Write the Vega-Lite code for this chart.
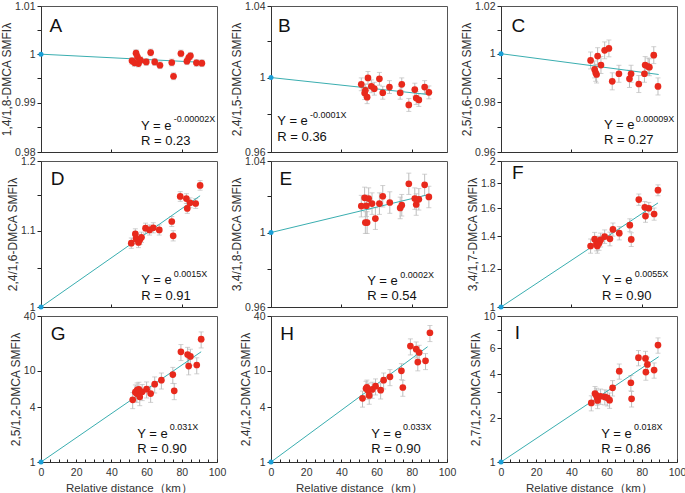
{
"$schema":"https://vega.github.io/schema/vega-lite/v6.json",
"padding":{"left":0,"top":0,"right":5,"bottom":0},
"config":{
 "font":"Liberation Sans",
 "view":{"stroke":"#555","strokeWidth":1},
 "axis":{"grid":false,"labelFont":"Liberation Sans","labelFontSize":10.5,"labelColor":"#333","titleFont":"Liberation Sans","titleFontSize":12,"titleFontWeight":"normal","titleColor":"#333","domainColor":"#333","tickColor":"#222","tickSize":4,"tickWidth":1,"labelPadding":2,"titlePadding":1,"labelFlush":false,"labelBound":false,"labelOverlap":false,"labelSeparation":0},
 "axisX":{"titleFontSize":11.5,"labelOverlap":false},
 "text":{"baseline":"alphabetic","align":"left","font":"Liberation Sans","color":"#111"}
},
"datasets":{
"pts":[
{"p":"A","x":51.7,"y":0.99862,"e":0.0007},{"p":"A","x":53.1,"y":0.99821,"e":0.0007},{"p":"A","x":54.0,"y":1.00021,"e":0.0007},{"p":"A","x":54.8,"y":0.99945,"e":0.0007},{"p":"A","x":55.4,"y":0.99807,"e":0.0007},{"p":"A","x":56.5,"y":0.99876,"e":0.0007},{"p":"A","x":59.8,"y":0.99841,"e":0.0007},{"p":"A","x":62.3,"y":1.00034,"e":0.0007},{"p":"A","x":64.6,"y":0.99841,"e":0.0007},{"p":"A","x":67.6,"y":0.99772,"e":0.0007},{"p":"A","x":74.3,"y":0.99828,"e":0.0007},{"p":"A","x":75.3,"y":0.99545,"e":0.0007},{"p":"A","x":79.5,"y":1.00014,"e":0.0007},{"p":"A","x":82.9,"y":0.99855,"e":0.0007},{"p":"A","x":83.9,"y":0.99924,"e":0.0007},{"p":"A","x":84.9,"y":0.99966,"e":0.0007},{"p":"A","x":88.3,"y":0.99821,"e":0.0007},{"p":"A","x":91.4,"y":0.99814,"e":0.0007},
{"p":"B","x":51.3,"y":0.9963,"e":0.0035},{"p":"B","x":53.2,"y":0.9915,"e":0.0035},{"p":"B","x":53.6,"y":0.9930,"e":0.0035},{"p":"B","x":54.6,"y":0.9893,"e":0.0035},{"p":"B","x":55.1,"y":0.9998,"e":0.0035},{"p":"B","x":57.0,"y":0.9952,"e":0.0035},{"p":"B","x":58.7,"y":0.9939,"e":0.0035},{"p":"B","x":61.6,"y":0.9993,"e":0.0035},{"p":"B","x":63.5,"y":0.9917,"e":0.0035},{"p":"B","x":67.3,"y":0.9948,"e":0.0035},{"p":"B","x":73.4,"y":0.9917,"e":0.0035},{"p":"B","x":74.3,"y":0.9963,"e":0.0035},{"p":"B","x":78.3,"y":0.9851,"e":0.0035},{"p":"B","x":81.7,"y":0.9934,"e":0.0035},{"p":"B","x":82.5,"y":0.9888,"e":0.0035},{"p":"B","x":84.0,"y":0.9878,"e":0.0035},{"p":"B","x":87.3,"y":0.9948,"e":0.0035},{"p":"B","x":89.7,"y":0.9919,"e":0.0035},
{"p":"C","x":50.9,"y":0.9972,"e":0.0035},{"p":"C","x":53.2,"y":0.9935,"e":0.0035},{"p":"C","x":53.8,"y":0.9921,"e":0.0035},{"p":"C","x":54.3,"y":0.9914,"e":0.0035},{"p":"C","x":54.9,"y":0.9990,"e":0.0035},{"p":"C","x":56.8,"y":0.9953,"e":0.0035},{"p":"C","x":58.9,"y":1.0014,"e":0.0035},{"p":"C","x":61.3,"y":1.0022,"e":0.0035},{"p":"C","x":63.2,"y":0.9886,"e":0.0035},{"p":"C","x":67.0,"y":0.9917,"e":0.0035},{"p":"C","x":73.0,"y":0.9896,"e":0.0035},{"p":"C","x":73.9,"y":0.9917,"e":0.0035},{"p":"C","x":78.3,"y":0.9875,"e":0.0035},{"p":"C","x":81.5,"y":0.9917,"e":0.0035},{"p":"C","x":81.9,"y":0.9953,"e":0.0035},{"p":"C","x":83.6,"y":0.9947,"e":0.0035},{"p":"C","x":84.3,"y":0.9944,"e":0.0035},{"p":"C","x":86.8,"y":0.9994,"e":0.0035},{"p":"C","x":89.2,"y":0.9865,"e":0.0035},
{"p":"D","x":51.3,"y":1.083,"e":0.007},{"p":"D","x":53.6,"y":1.0956,"e":0.007},{"p":"D","x":54.0,"y":1.089,"e":0.007},{"p":"D","x":55.4,"y":1.084,"e":0.007},{"p":"D","x":56.2,"y":1.088,"e":0.007},{"p":"D","x":57.1,"y":1.091,"e":0.007},{"p":"D","x":59.4,"y":1.1034,"e":0.007},{"p":"D","x":61.7,"y":1.101,"e":0.007},{"p":"D","x":63.8,"y":1.104,"e":0.007},{"p":"D","x":67.2,"y":1.101,"e":0.007},{"p":"D","x":74.3,"y":1.1127,"e":0.007},{"p":"D","x":75.1,"y":1.093,"e":0.007},{"p":"D","x":79.1,"y":1.148,"e":0.007},{"p":"D","x":82.6,"y":1.145,"e":0.007},{"p":"D","x":83.1,"y":1.131,"e":0.007},{"p":"D","x":84.7,"y":1.139,"e":0.007},{"p":"D","x":87.9,"y":1.138,"e":0.007},{"p":"D","x":90.4,"y":1.164,"e":0.007},
{"p":"E","x":51.3,"y":1.0146,"e":0.006},{"p":"E","x":53.2,"y":1.0192,"e":0.006},{"p":"E","x":53.6,"y":1.0055,"e":0.006},{"p":"E","x":54.6,"y":1.0055,"e":0.006},{"p":"E","x":54.2,"y":1.0148,"e":0.006},{"p":"E","x":55.5,"y":1.0188,"e":0.006},{"p":"E","x":57.4,"y":1.0160,"e":0.006},{"p":"E","x":59.3,"y":1.0077,"e":0.006},{"p":"E","x":61.6,"y":1.0160,"e":0.006},{"p":"E","x":63.5,"y":1.0201,"e":0.006},{"p":"E","x":67.5,"y":1.0166,"e":0.006},{"p":"E","x":73.4,"y":1.0136,"e":0.006},{"p":"E","x":74.3,"y":1.0151,"e":0.006},{"p":"E","x":78.3,"y":1.0271,"e":0.006},{"p":"E","x":81.7,"y":1.0188,"e":0.006},{"p":"E","x":82.5,"y":1.0155,"e":0.006},{"p":"E","x":84.0,"y":1.0184,"e":0.006},{"p":"E","x":87.3,"y":1.0265,"e":0.006},{"p":"E","x":89.7,"y":1.0197,"e":0.006},
{"p":"F","x":50.9,"y":1.336,"e":0.045},{"p":"F","x":53.2,"y":1.38,"e":0.045},{"p":"F","x":54.2,"y":1.35,"e":0.045},{"p":"F","x":54.7,"y":1.336,"e":0.045},{"p":"F","x":55.7,"y":1.354,"e":0.045},{"p":"F","x":56.6,"y":1.375,"e":0.045},{"p":"F","x":58.9,"y":1.397,"e":0.045},{"p":"F","x":61.9,"y":1.382,"e":0.045},{"p":"F","x":63.6,"y":1.445,"e":0.045},{"p":"F","x":67.2,"y":1.42,"e":0.045},{"p":"F","x":73.2,"y":1.475,"e":0.045},{"p":"F","x":74.0,"y":1.378,"e":0.045},{"p":"F","x":78.3,"y":1.665,"e":0.045},{"p":"F","x":81.7,"y":1.605,"e":0.045},{"p":"F","x":82.1,"y":1.54,"e":0.045},{"p":"F","x":84.0,"y":1.598,"e":0.045},{"p":"F","x":87.0,"y":1.555,"e":0.045},{"p":"F","x":89.2,"y":1.741,"e":0.045},
{"p":"G","x":52.1,"y":4.81,"e":0.96},{"p":"G","x":53.6,"y":5.84,"e":1.17},{"p":"G","x":54.4,"y":5.64,"e":1.13},{"p":"G","x":54.6,"y":6.14,"e":1.23},{"p":"G","x":55.6,"y":6.25,"e":1.25},{"p":"G","x":56.1,"y":5.19,"e":1.04},{"p":"G","x":57.5,"y":5.9,"e":1.18},{"p":"G","x":60.0,"y":6.3,"e":1.26},{"p":"G","x":62.3,"y":5.64,"e":1.13},{"p":"G","x":64.6,"y":7.15,"e":1.43},{"p":"G","x":68.4,"y":7.9,"e":1.58},{"p":"G","x":74.9,"y":9.1,"e":1.82},{"p":"G","x":75.7,"y":6.04,"e":1.21},{"p":"G","x":79.5,"y":16.2,"e":3.24},{"p":"G","x":83.3,"y":15.1,"e":3.02},{"p":"G","x":84.9,"y":14.4,"e":2.88},{"p":"G","x":83.9,"y":11.3,"e":2.26},{"p":"G","x":88.5,"y":11.6,"e":2.32},{"p":"G","x":91.0,"y":22.3,"e":4.46},
{"p":"H","x":52.0,"y":5.0,"e":1.0},{"p":"H","x":54.0,"y":6.4,"e":1.28},{"p":"H","x":54.5,"y":6.6,"e":1.32},{"p":"H","x":55.2,"y":6.1,"e":1.22},{"p":"H","x":55.8,"y":5.37,"e":1.07},{"p":"H","x":57.5,"y":6.25,"e":1.25},{"p":"H","x":59.4,"y":6.8,"e":1.36},{"p":"H","x":62.3,"y":6.14,"e":1.23},{"p":"H","x":64.0,"y":7.9,"e":1.58},{"p":"H","x":67.6,"y":8.6,"e":1.72},{"p":"H","x":74.1,"y":10.0,"e":2.0},{"p":"H","x":74.9,"y":6.57,"e":1.31},{"p":"H","x":79.2,"y":18.7,"e":3.74},{"p":"H","x":82.5,"y":17.3,"e":3.46},{"p":"H","x":83.4,"y":12.5,"e":2.5},{"p":"H","x":84.2,"y":15.9,"e":3.18},{"p":"H","x":87.8,"y":12.9,"e":2.58},{"p":"H","x":90.3,"y":26.2,"e":5.24},
{"p":"I","x":51.3,"y":2.54,"e":0.30},{"p":"I","x":53.4,"y":2.94,"e":0.35},{"p":"I","x":54.2,"y":2.86,"e":0.34},{"p":"I","x":54.6,"y":2.78,"e":0.33},{"p":"I","x":54.9,"y":2.64,"e":0.32},{"p":"I","x":56.6,"y":2.82,"e":0.34},{"p":"I","x":59.0,"y":2.79,"e":0.33},{"p":"I","x":60.4,"y":2.75,"e":0.33},{"p":"I","x":61.7,"y":2.65,"e":0.32},{"p":"I","x":63.4,"y":3.22,"e":0.39},{"p":"I","x":67.2,"y":4.19,"e":0.50},{"p":"I","x":73.8,"y":3.49,"e":0.42},{"p":"I","x":74.2,"y":2.71,"e":0.33},{"p":"I","x":78.1,"y":5.18,"e":0.62},{"p":"I","x":82.1,"y":5.12,"e":0.61},{"p":"I","x":82.3,"y":4.13,"e":0.50},{"p":"I","x":83.2,"y":4.66,"e":0.56},{"p":"I","x":87.0,"y":4.26,"e":0.51},{"p":"I","x":89.2,"y":6.32,"e":0.76}
],
"fit":[
{"p":"A","x":0,"y":1},{"p":"A","x":92.3,"y":0.9983},
{"p":"B","x":0,"y":1},{"p":"B","x":90.7,"y":0.9906},
{"p":"C","x":0,"y":1},{"p":"C","x":89.6,"y":0.9914},
{"p":"D","x":0,"y":1},{"p":"D","x":90.4,"y":1.149},
{"p":"E","x":0,"y":1},{"p":"E","x":90.3,"y":1.0212},
{"p":"F","x":0,"y":1},{"p":"F","x":89.2,"y":1.639},
{"p":"G","x":0,"y":1},{"p":"G","x":91,"y":16.2},
{"p":"H","x":0,"y":1},{"p":"H","x":89,"y":18.4},
{"p":"I","x":0,"y":1},{"p":"I","x":89.6,"y":5.26}
]
},
"columns":3,
"spacing":{"row":9,"column":54},
"bounds":"flush",
"concat":[
{"width":176,"height":146,"layer":[
 {"data":{"name":"pts"},"transform":[{"filter":"datum.p=='A'"}],"mark":{"type":"errorbar","ticks":true,"color":"#bdbdbd"},
  "encoding":{"x":{"field":"x","type":"quantitative","scale":{"domain":[0,100],"nice":false},"axis":{"values":[0,5,10,15,20,25,30,35,40,45,50,55,60,65,70,75,80,85,90,95,100],"labels":false,"title":null,"tickSize":-3}},
   "y":{"field":"y","type":"quantitative","scale":{"type":"log","domain":[0.98,1.01],"nice":false},"axis":{"values":[0.98,0.985,0.99,0.995,1,1.005,1.01],"labelOverlap":false,"labelExpr":"indexof([0.98,0.99,1,1.01],datum.value)>=0?format(datum.value,'~g'):''","title":"1,4/1,8-DMCA SMFIλ"}},
   "yError":{"field":"e"}}},
 {"data":{"name":"fit"},"transform":[{"filter":"datum.p=='A'"}],"mark":{"type":"line","color":"#3aaeb0","strokeWidth":1},"encoding":{"x":{"field":"x","type":"quantitative"},"y":{"field":"y","type":"quantitative"}}},
 {"data":{"name":"pts"},"transform":[{"filter":"datum.p=='A'"}],"mark":{"type":"circle","color":"#e8291c","opacity":1,"size":45},"encoding":{"x":{"field":"x","type":"quantitative"},"y":{"field":"y","type":"quantitative"}}},
 {"data":{"name":"fit"},"transform":[{"filter":"datum.p=='A' && datum.x==0"}],"mark":{"type":"circle","color":"#1a9fd8","opacity":1,"size":25,"clip":false},"encoding":{"x":{"field":"x","type":"quantitative"},"y":{"field":"y","type":"quantitative"}}},
 {"data":{"values":[{}]},"mark":{"type":"text","text":"A","fontSize":19},"encoding":{"x":{"datum":4.9},"y":{"datum":1.00465}}},
 {"data":{"values":[{}]},"mark":{"type":"text","text":"Y = e","fontSize":13},"encoding":{"x":{"datum":56.8},"y":{"datum":0.98447}}},
 {"data":{"values":[{}]},"mark":{"type":"text","text":"-0.00002X","fontSize":9},"encoding":{"x":{"datum":75.4},"y":{"datum":0.98614}}},
 {"data":{"values":[{}]},"mark":{"type":"text","text":"R = 0.23","fontSize":13},"encoding":{"x":{"datum":56.8},"y":{"datum":0.98142}}}
]},
{"width":176,"height":146,"layer":[
 {"data":{"name":"pts"},"transform":[{"filter":"datum.p=='B'"}],"mark":{"type":"errorbar","ticks":true,"color":"#bdbdbd"},
  "encoding":{"x":{"field":"x","type":"quantitative","scale":{"domain":[0,100],"nice":false},"axis":{"values":[0,5,10,15,20,25,30,35,40,45,50,55,60,65,70,75,80,85,90,95,100],"labels":false,"title":null,"tickSize":-3}},
   "y":{"field":"y","type":"quantitative","scale":{"type":"log","domain":[0.96,1.04],"nice":false},"axis":{"values":[0.96,0.98,1,1.02,1.04],"labelOverlap":false,"labelExpr":"indexof([0.96,1,1.04],datum.value)>=0?format(datum.value,'~g'):''","title":"2,4/1,5-DMCA SMFIλ"}},
   "yError":{"field":"e"}}},
 {"data":{"name":"fit"},"transform":[{"filter":"datum.p=='B'"}],"mark":{"type":"line","color":"#3aaeb0","strokeWidth":1},"encoding":{"x":{"field":"x","type":"quantitative"},"y":{"field":"y","type":"quantitative"}}},
 {"data":{"name":"pts"},"transform":[{"filter":"datum.p=='B'"}],"mark":{"type":"circle","color":"#e8291c","opacity":1,"size":45},"encoding":{"x":{"field":"x","type":"quantitative"},"y":{"field":"y","type":"quantitative"}}},
 {"data":{"name":"fit"},"transform":[{"filter":"datum.p=='B' && datum.x==0"}],"mark":{"type":"circle","color":"#1a9fd8","opacity":1,"size":25,"clip":false},"encoding":{"x":{"field":"x","type":"quantitative"},"y":{"field":"y","type":"quantitative"}}},
 {"data":{"values":[{}]},"mark":{"type":"text","text":"B","fontSize":19},"encoding":{"x":{"datum":4.0},"y":{"datum":1.02545}}},
 {"data":{"values":[{}]},"mark":{"type":"text","text":"Y = e","fontSize":13},"encoding":{"x":{"datum":3.6},"y":{"datum":0.97432}}},
 {"data":{"values":[{}]},"mark":{"type":"text","text":"-0.0001X","fontSize":9},"encoding":{"x":{"datum":22.2},"y":{"datum":0.97823}}},
 {"data":{"values":[{}]},"mark":{"type":"text","text":"R = 0.36","fontSize":13},"encoding":{"x":{"datum":3.6},"y":{"datum":0.96578}}}
]},
{"width":176,"height":146,"layer":[
 {"data":{"name":"pts"},"transform":[{"filter":"datum.p=='C'"}],"mark":{"type":"errorbar","ticks":true,"color":"#bdbdbd"},
  "encoding":{"x":{"field":"x","type":"quantitative","scale":{"domain":[0,100],"nice":false},"axis":{"values":[0,5,10,15,20,25,30,35,40,45,50,55,60,65,70,75,80,85,90,95,100],"labels":false,"title":null,"tickSize":-3}},
   "y":{"field":"y","type":"quantitative","scale":{"type":"log","domain":[0.96,1.02],"nice":false},"axis":{"values":[0.96,0.97,0.98,0.99,1,1.01,1.02],"labelOverlap":false,"labelExpr":"indexof([0.96,0.98,1,1.02],datum.value)>=0?format(datum.value,'~g'):''","title":"2,5/1,6-DMCA SMFIλ"}},
   "yError":{"field":"e"}}},
 {"data":{"name":"fit"},"transform":[{"filter":"datum.p=='C'"}],"mark":{"type":"line","color":"#3aaeb0","strokeWidth":1},"encoding":{"x":{"field":"x","type":"quantitative"},"y":{"field":"y","type":"quantitative"}}},
 {"data":{"name":"pts"},"transform":[{"filter":"datum.p=='C'"}],"mark":{"type":"circle","color":"#e8291c","opacity":1,"size":45},"encoding":{"x":{"field":"x","type":"quantitative"},"y":{"field":"y","type":"quantitative"}}},
 {"data":{"name":"fit"},"transform":[{"filter":"datum.p=='C' && datum.x==0"}],"mark":{"type":"circle","color":"#1a9fd8","opacity":1,"size":25,"clip":false},"encoding":{"x":{"field":"x","type":"quantitative"},"y":{"field":"y","type":"quantitative"}}},
 {"data":{"values":[{}]},"mark":{"type":"text","text":"C","fontSize":19},"encoding":{"x":{"datum":5.9},"y":{"datum":1.00918}}},
 {"data":{"values":[{}]},"mark":{"type":"text","text":"Y = e","fontSize":13},"encoding":{"x":{"datum":58.5},"y":{"datum":0.96906}}},
 {"data":{"values":[{}]},"mark":{"type":"text","text":"0.00009X","fontSize":9},"encoding":{"x":{"datum":76.5},"y":{"datum":0.97218}}},
 {"data":{"values":[{}]},"mark":{"type":"text","text":"R = 0.27","fontSize":13},"encoding":{"x":{"datum":58.5},"y":{"datum":0.96309}}}
]},
{"width":176,"height":146,"layer":[
 {"data":{"name":"pts"},"transform":[{"filter":"datum.p=='D'"}],"mark":{"type":"errorbar","ticks":true,"color":"#bdbdbd"},
  "encoding":{"x":{"field":"x","type":"quantitative","scale":{"domain":[0,100],"nice":false},"axis":{"values":[0,5,10,15,20,25,30,35,40,45,50,55,60,65,70,75,80,85,90,95,100],"labels":false,"title":null,"tickSize":-3}},
   "y":{"field":"y","type":"quantitative","scale":{"type":"log","domain":[1,1.2],"nice":false},"axis":{"values":[1,1.05,1.1,1.15,1.2],"labelOverlap":false,"labelExpr":"indexof([1,1.1,1.2],datum.value)>=0?format(datum.value,'~g'):''","title":"2,4/1,6-DMCA SMFIλ"}},
   "yError":{"field":"e"}}},
 {"data":{"name":"fit"},"transform":[{"filter":"datum.p=='D'"}],"mark":{"type":"line","color":"#3aaeb0","strokeWidth":1},"encoding":{"x":{"field":"x","type":"quantitative"},"y":{"field":"y","type":"quantitative"}}},
 {"data":{"name":"pts"},"transform":[{"filter":"datum.p=='D'"}],"mark":{"type":"circle","color":"#e8291c","opacity":1,"size":45},"encoding":{"x":{"field":"x","type":"quantitative"},"y":{"field":"y","type":"quantitative"}}},
 {"data":{"name":"fit"},"transform":[{"filter":"datum.p=='D' && datum.x==0"}],"mark":{"type":"circle","color":"#1a9fd8","opacity":1,"size":25,"clip":false},"encoding":{"x":{"field":"x","type":"quantitative"},"y":{"field":"y","type":"quantitative"}}},
 {"data":{"values":[{}]},"mark":{"type":"text","text":"D","fontSize":19},"encoding":{"x":{"datum":5.5},"y":{"datum":1.16423}}},
 {"data":{"values":[{}]},"mark":{"type":"text","text":"Y = e","fontSize":13},"encoding":{"x":{"datum":57},"y":{"datum":1.02866}}},
 {"data":{"values":[{}]},"mark":{"type":"text","text":"0.0015X","fontSize":9},"encoding":{"x":{"datum":75.4},"y":{"datum":1.03865}}},
 {"data":{"values":[{}]},"mark":{"type":"text","text":"R = 0.91","fontSize":13},"encoding":{"x":{"datum":57},"y":{"datum":1.00879}}}
]},
{"width":176,"height":146,"layer":[
 {"data":{"name":"pts"},"transform":[{"filter":"datum.p=='E'"}],"mark":{"type":"errorbar","ticks":true,"color":"#bdbdbd"},
  "encoding":{"x":{"field":"x","type":"quantitative","scale":{"domain":[0,100],"nice":false},"axis":{"values":[0,5,10,15,20,25,30,35,40,45,50,55,60,65,70,75,80,85,90,95,100],"labels":false,"title":null,"tickSize":-3}},
   "y":{"field":"y","type":"quantitative","scale":{"type":"log","domain":[0.96,1.04],"nice":false},"axis":{"values":[0.96,0.98,1,1.02,1.04],"labelOverlap":false,"labelExpr":"indexof([0.96,1,1.04],datum.value)>=0?format(datum.value,'~g'):''","title":"3,4/1,8-DMCA SMFIλ"}},
   "yError":{"field":"e"}}},
 {"data":{"name":"fit"},"transform":[{"filter":"datum.p=='E'"}],"mark":{"type":"line","color":"#3aaeb0","strokeWidth":1},"encoding":{"x":{"field":"x","type":"quantitative"},"y":{"field":"y","type":"quantitative"}}},
 {"data":{"name":"pts"},"transform":[{"filter":"datum.p=='E'"}],"mark":{"type":"circle","color":"#e8291c","opacity":1,"size":45},"encoding":{"x":{"field":"x","type":"quantitative"},"y":{"field":"y","type":"quantitative"}}},
 {"data":{"name":"fit"},"transform":[{"filter":"datum.p=='E' && datum.x==0"}],"mark":{"type":"circle","color":"#1a9fd8","opacity":1,"size":25,"clip":false},"encoding":{"x":{"field":"x","type":"quantitative"},"y":{"field":"y","type":"quantitative"}}},
 {"data":{"values":[{}]},"mark":{"type":"text","text":"E","fontSize":19},"encoding":{"x":{"datum":4.9},"y":{"datum":1.02627}}},
 {"data":{"values":[{}]},"mark":{"type":"text","text":"Y = e","fontSize":13},"encoding":{"x":{"datum":54.7},"y":{"datum":0.97152}}},
 {"data":{"values":[{}]},"mark":{"type":"text","text":"0.0002X","fontSize":9},"encoding":{"x":{"datum":73.5},"y":{"datum":0.97557}}},
 {"data":{"values":[{}]},"mark":{"type":"text","text":"R = 0.54","fontSize":13},"encoding":{"x":{"datum":54.7},"y":{"datum":0.9637}}}
]},
{"width":176,"height":146,"layer":[
 {"data":{"name":"pts"},"transform":[{"filter":"datum.p=='F'"}],"mark":{"type":"errorbar","ticks":true,"color":"#bdbdbd"},
  "encoding":{"x":{"field":"x","type":"quantitative","scale":{"domain":[0,100],"nice":false},"axis":{"values":[0,5,10,15,20,25,30,35,40,45,50,55,60,65,70,75,80,85,90,95,100],"labels":false,"title":null,"tickSize":-3}},
   "y":{"field":"y","type":"quantitative","scale":{"type":"log","domain":[1,2],"nice":false},"axis":{"values":[1,1.2,1.4,1.6,1.8,2],"labelOverlap":false,"labelExpr":"format(datum.value,'~g')","title":"3,4/1,7-DMCA SMFIλ"}},
   "yError":{"field":"e"}}},
 {"data":{"name":"fit"},"transform":[{"filter":"datum.p=='F'"}],"mark":{"type":"line","color":"#3aaeb0","strokeWidth":1},"encoding":{"x":{"field":"x","type":"quantitative"},"y":{"field":"y","type":"quantitative"}}},
 {"data":{"name":"pts"},"transform":[{"filter":"datum.p=='F'"}],"mark":{"type":"circle","color":"#e8291c","opacity":1,"size":45},"encoding":{"x":{"field":"x","type":"quantitative"},"y":{"field":"y","type":"quantitative"}}},
 {"data":{"name":"fit"},"transform":[{"filter":"datum.p=='F' && datum.x==0"}],"mark":{"type":"circle","color":"#1a9fd8","opacity":1,"size":25,"clip":false},"encoding":{"x":{"field":"x","type":"quantitative"},"y":{"field":"y","type":"quantitative"}}},
 {"data":{"values":[{}]},"mark":{"type":"text","text":"F","fontSize":19},"encoding":{"x":{"datum":6.25},"y":{"datum":1.83401}}},
 {"data":{"values":[{}]},"mark":{"type":"text","text":"Y = e","fontSize":13},"encoding":{"x":{"datum":57.4},"y":{"datum":1.11342}}},
 {"data":{"values":[{}]},"mark":{"type":"text","text":"0.0055X","fontSize":9},"encoding":{"x":{"datum":76},"y":{"datum":1.15509}}},
 {"data":{"values":[{}]},"mark":{"type":"text","text":"R = 0.90","fontSize":13},"encoding":{"x":{"datum":57.4},"y":{"datum":1.03383}}}
]},
{"width":176,"height":146,"resolve":{"axis":{"x":"independent"}},"layer":[
 {"data":{"name":"pts"},"transform":[{"filter":"datum.p=='G'"}],"mark":{"type":"errorbar","ticks":true,"color":"#bdbdbd"},
  "encoding":{"x":{"field":"x","type":"quantitative","scale":{"domain":[0,100],"nice":false},"axis":null},
   "y":{"field":"y","type":"quantitative","scale":{"type":"log","domain":[1,40],"nice":false},"axis":{"values":[1,4,10,40],"labelOverlap":false,"labelExpr":"format(datum.value,'~g')","title":"2,5/1,2-DMCA SMFIλ"}},
   "yError":{"field":"e"}}},
 {"data":{"name":"fit"},"transform":[{"filter":"datum.p=='G'"}],"mark":{"type":"line","color":"#3aaeb0","strokeWidth":1},"encoding":{"x":{"field":"x","type":"quantitative","axis":{"orient":"bottom","values":[0,5,10,15,20,25,30,35,40,45,50,55,60,65,70,75,80,85,90,95,100],"labels":false,"domain":false,"title":null,"tickSize":-3}},"y":{"field":"y","type":"quantitative"}}},
 {"data":{"name":"pts"},"transform":[{"filter":"datum.p=='G'"}],"mark":{"type":"circle","color":"#e8291c","opacity":1,"size":45},"encoding":{"x":{"field":"x","type":"quantitative","axis":{"orient":"bottom","values":[0,20,40,60,80,100],"ticks":false,"labelOverlap":false,"labelFlush":false,"labelBound":false,"labelSeparation":0,"labelAlign":"center","title":"Relative distance（km）","labelPadding":5,"titlePadding":5}},"y":{"field":"y","type":"quantitative"}}},
 {"data":{"name":"fit"},"transform":[{"filter":"datum.p=='G' && datum.x==0"}],"mark":{"type":"circle","color":"#1a9fd8","opacity":1,"size":25,"clip":false},"encoding":{"x":{"field":"x","type":"quantitative","axis":null},"y":{"field":"y","type":"quantitative"}}},
 {"data":{"values":[{}]},"mark":{"type":"text","text":"G","fontSize":19},"encoding":{"x":{"datum":5.5,"axis":null},"y":{"datum":21.84}}},
 {"data":{"values":[{}]},"mark":{"type":"text","text":"Y = e","fontSize":13},"encoding":{"x":{"datum":54.7,"axis":null},"y":{"datum":1.8448}}},
 {"data":{"values":[{}]},"mark":{"type":"text","text":"0.031X","fontSize":9},"encoding":{"x":{"datum":73.1,"axis":null},"y":{"datum":2.2267}}},
 {"data":{"values":[{}]},"mark":{"type":"text","text":"R = 0.90","fontSize":13},"encoding":{"x":{"datum":54.7,"axis":null},"y":{"datum":1.2663}}}
]},
{"width":176,"height":146,"resolve":{"axis":{"x":"independent"}},"layer":[
 {"data":{"name":"pts"},"transform":[{"filter":"datum.p=='H'"}],"mark":{"type":"errorbar","ticks":true,"color":"#bdbdbd"},
  "encoding":{"x":{"field":"x","type":"quantitative","scale":{"domain":[0,100],"nice":false},"axis":null},
   "y":{"field":"y","type":"quantitative","scale":{"type":"log","domain":[1,40],"nice":false},"axis":{"values":[1,4,10,40],"labelOverlap":false,"labelExpr":"format(datum.value,'~g')","title":"2,4/1,2-DMCA SMFIλ"}},
   "yError":{"field":"e"}}},
 {"data":{"name":"fit"},"transform":[{"filter":"datum.p=='H'"}],"mark":{"type":"line","color":"#3aaeb0","strokeWidth":1},"encoding":{"x":{"field":"x","type":"quantitative","axis":{"orient":"bottom","values":[0,5,10,15,20,25,30,35,40,45,50,55,60,65,70,75,80,85,90,95,100],"labels":false,"domain":false,"title":null,"tickSize":-3}},"y":{"field":"y","type":"quantitative"}}},
 {"data":{"name":"pts"},"transform":[{"filter":"datum.p=='H'"}],"mark":{"type":"circle","color":"#e8291c","opacity":1,"size":45},"encoding":{"x":{"field":"x","type":"quantitative","axis":{"orient":"bottom","values":[0,20,40,60,80,100],"ticks":false,"labelOverlap":false,"labelFlush":false,"labelBound":false,"labelSeparation":0,"labelAlign":"center","title":"Relative distance（km）","labelPadding":5,"titlePadding":5}},"y":{"field":"y","type":"quantitative"}}},
 {"data":{"name":"fit"},"transform":[{"filter":"datum.p=='H' && datum.x==0"}],"mark":{"type":"circle","color":"#1a9fd8","opacity":1,"size":25,"clip":false},"encoding":{"x":{"field":"x","type":"quantitative","axis":null},"y":{"field":"y","type":"quantitative"}}},
 {"data":{"values":[{}]},"mark":{"type":"text","text":"H","fontSize":19},"encoding":{"x":{"datum":5.3,"axis":null},"y":{"datum":21.84}}},
 {"data":{"values":[{}]},"mark":{"type":"text","text":"Y = e","fontSize":13},"encoding":{"x":{"datum":57,"axis":null},"y":{"datum":1.8448}}},
 {"data":{"values":[{}]},"mark":{"type":"text","text":"0.033X","fontSize":9},"encoding":{"x":{"datum":75,"axis":null},"y":{"datum":2.2267}}},
 {"data":{"values":[{}]},"mark":{"type":"text","text":"R = 0.90","fontSize":13},"encoding":{"x":{"datum":57,"axis":null},"y":{"datum":1.2663}}}
]},
{"width":176,"height":146,"resolve":{"axis":{"x":"independent"}},"layer":[
 {"data":{"name":"pts"},"transform":[{"filter":"datum.p=='I'"}],"mark":{"type":"errorbar","ticks":true,"color":"#bdbdbd"},
  "encoding":{"x":{"field":"x","type":"quantitative","scale":{"domain":[0,100],"nice":false},"axis":null},
   "y":{"field":"y","type":"quantitative","scale":{"type":"log","domain":[1,10],"nice":false},"axis":{"values":[1,2,3,4,6,8,10],"labelOverlap":false,"labelExpr":"indexof([1,2,4,6,10],datum.value)>=0?format(datum.value,'~g'):''","title":"2,7/1,2-DMCA SMFIλ"}},
   "yError":{"field":"e"}}},
 {"data":{"name":"fit"},"transform":[{"filter":"datum.p=='I'"}],"mark":{"type":"line","color":"#3aaeb0","strokeWidth":1},"encoding":{"x":{"field":"x","type":"quantitative","axis":{"orient":"bottom","values":[0,5,10,15,20,25,30,35,40,45,50,55,60,65,70,75,80,85,90,95,100],"labels":false,"domain":false,"title":null,"tickSize":-3}},"y":{"field":"y","type":"quantitative"}}},
 {"data":{"name":"pts"},"transform":[{"filter":"datum.p=='I'"}],"mark":{"type":"circle","color":"#e8291c","opacity":1,"size":45},"encoding":{"x":{"field":"x","type":"quantitative","axis":{"orient":"bottom","values":[0,20,40,60,80,100],"ticks":false,"labelOverlap":false,"labelFlush":false,"labelBound":false,"labelSeparation":0,"labelAlign":"center","title":"Relative distance（km）","labelPadding":5,"titlePadding":5}},"y":{"field":"y","type":"quantitative"}}},
 {"data":{"name":"fit"},"transform":[{"filter":"datum.p=='I' && datum.x==0"}],"mark":{"type":"circle","color":"#1a9fd8","opacity":1,"size":25,"clip":false},"encoding":{"x":{"field":"x","type":"quantitative","axis":null},"y":{"field":"y","type":"quantitative"}}},
 {"data":{"values":[{}]},"mark":{"type":"text","text":"I","fontSize":19},"encoding":{"x":{"datum":7.8,"axis":null},"y":{"datum":6.918}}},
 {"data":{"values":[{}]},"mark":{"type":"text","text":"Y = e","fontSize":13},"encoding":{"x":{"datum":57,"axis":null},"y":{"datum":1.4656}}},
 {"data":{"values":[{}]},"mark":{"type":"text","text":"0.018X","fontSize":9},"encoding":{"x":{"datum":75.6,"axis":null},"y":{"datum":1.6482}}},
 {"data":{"values":[{}]},"mark":{"type":"text","text":"R = 0.86","fontSize":13},"encoding":{"x":{"datum":57,"axis":null},"y":{"datum":1.1588}}}
]}
]
}
